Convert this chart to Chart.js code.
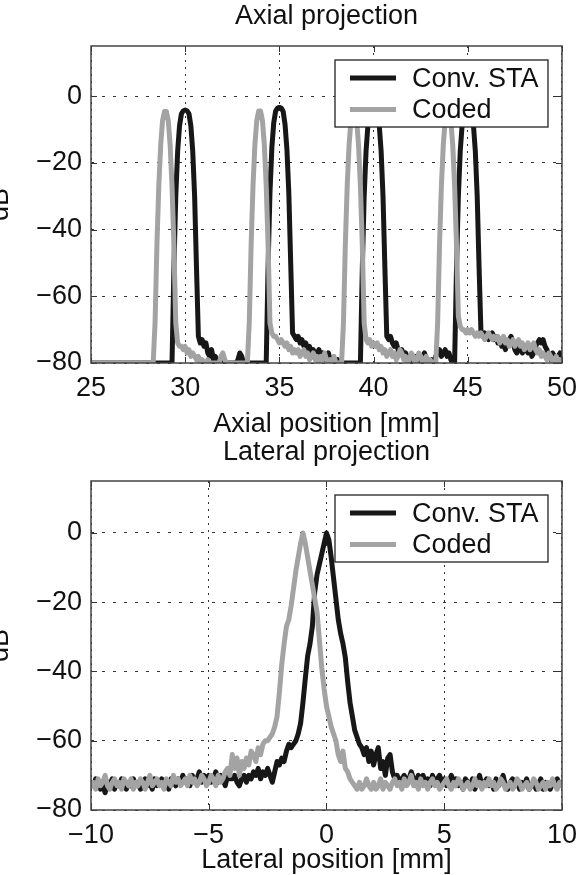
<!DOCTYPE html>
<html><head><meta charset="utf-8">
<script src="https://cdn.jsdelivr.net/npm/chart.js@4.4.0/dist/chart.umd.min.js"></script>
<style>
html,body{margin:0;padding:0;background:#fff;overflow:hidden;width:586px;height:875px;}
canvas{position:absolute;left:0;}
#c1{top:0}
#c2{top:437px}
</style></head><body>
<canvas id="c1" width="586" height="437"></canvas>
<canvas id="c2" width="586" height="438"></canvas>
<script>
const seriesLabels = ['Conv. STA', 'Coded'];
const panelTitles = ['Axial projection', 'Lateral projection'];
const xTitles = ['Axial position [mm]', 'Lateral position [mm]'];
const yTitle = 'dB';
const yTicks = [-80, -60, -40, -20, 0];
const axialXTicks = [25, 30, 35, 40, 45, 50];
const lateralXTicks = [-10, -5, 0, 5, 10];

// axial profile, samples every 0.1 mm from 25 mm
const axialStart = 25, axialStep = 0.1;
const axialConv = [
-80,-80,-80,-80,-80,-80,-80,-80,-80,-80,
-80,-80,-80,-80,-80,-80,-80,-80,-80,-80,
-80,-80,-80,-80,-80,-80,-80,-80,-80,-80,
-80,-80,-80,-80,-80,-80,-80,-80,-80,-80,
-80,-80,-80,-80,-52,-30,-16.5,-8.9,-5.3,-4.4,
-4.2,-4.4,-5.3,-8.9,-16.5,-30,-51.5,-72,-74,-73,
-75,-74,-77,-78,-76,-79,-78,-80,-80,-79,
-80,-80,-80,-80,-80,-80,-80,-80,-79,-77,
-78,-80,-80,-80,-80,-80,-80,-80,-80,-80,
-80,-80,-80,-80,-51,-29,-15.5,-8,-4.5,-3.6,
-3.4,-3.6,-4.6,-8.5,-16,-29,-50,-71,-72,-73,
-72,-74,-73,-75,-74,-76,-75,-77,-76,-78,
-77,-76,-78,-77,-79,-78,-77,-79,-80,-79,
-80,-79,-80,-80,-80,-80,-80,-80,-80,-80,
-80,-80,-80,-80,-52,-30,-16.5,-8.7,-5,-4,
-3.8,-4,-5,-8.7,-16.5,-30,-51.5,-72,-73,-72,
-74,-75,-74,-76,-77,-76,-78,-77,-79,-78,
-80,-79,-78,-80,-79,-80,-78,-77,-79,-80,
-80,-79,-80,-78,-77,-76,-78,-77,-76,-78,
-77,-79,-80,-80,-52,-30,-16.5,-8.7,-5,-4,
-3.8,-4,-5,-8.7,-16.5,-30,-51.5,-71,-72,-71,
-72,-73,-72,-71,-73,-72,-74,-73,-75,-74,
-76,-74,-73,-72,-74,-76,-77,-75,-76,-77,
-75,-76,-77,-76,-78,-77,-75,-74,-73,-74,
-73,-75,-76,-78,-79,-77,-78,-79,-78,-77,
-78];
const axialCoded = [
-80,-80,-80,-80,-80,-80,-80,-80,-80,-80,
-80,-80,-80,-80,-80,-80,-80,-80,-80,-80,
-80,-80,-80,-80,-80,-80,-80,-80,-80,-80,
-80,-80,-80,-80,-68,-44.5,-26.8,-14.6,-7.3,-4.6,
-4.6,-7.3,-14.6,-26.8,-44.5,-68,-74,-75,-75,-76,
-75,-77,-76,-78,-77,-78,-79,-78,-80,-79,
-80,-80,-79,-80,-80,-80,-80,-80,-80,-78,
-77,-79,-80,-80,-80,-80,-80,-80,-80,-80,
-80,-80,-80,-80,-68,-44.5,-26.8,-14.6,-7.3,-4.5,
-4.5,-7.3,-14.6,-26.8,-44.5,-68,-71,-72,-72,-73,
-74,-73,-74,-75,-74,-76,-75,-77,-76,-77,
-76,-78,-77,-76,-78,-77,-79,-78,-77,-79,
-78,-80,-78,-79,-77,-79,-80,-79,-80,-78,
-80,-80,-80,-80,-68,-44.5,-26.8,-14.6,-7.3,-4.6,
-4.6,-7.3,-14.6,-26.8,-44.5,-68,-73,-74,-73,-75,
-74,-75,-74,-76,-75,-77,-76,-78,-77,-76,
-78,-77,-79,-78,-76,-77,-79,-78,-80,-79,
-77,-78,-80,-79,-77,-78,-80,-79,-78,-80,
-79,-80,-80,-80,-68,-44.5,-26.8,-14.6,-7.3,-4.6,
-4.6,-7.3,-14.6,-26.8,-44.5,-66,-69,-70,-70,-71,
-70,-71,-70,-71,-72,-71,-72,-71,-72,-73,
-72,-71,-72,-73,-72,-73,-72,-74,-73,-72,
-74,-73,-75,-74,-73,-75,-74,-73,-75,-74,
-76,-75,-74,-76,-75,-74,-76,-77,-76,-78,
-77,-78,-79,-77,-78,-80,-79,-78,-80,-79,
-80];

// lateral profile, samples every 0.1 mm from -10 mm
const lateralStart = -10, lateralStep = 0.1;
const lateralConv = [
-72,-73,-71,-72,-74,-73,-75,-72,-73,-71,
-74,-72,-73,-71,-72,-74,-72,-73,-71,-73,
-72,-74,-73,-71,-73,-72,-74,-71,-73,-72,
-71,-73,-72,-74,-71,-72,-73,-71,-72,-70,
-72,-71,-73,-70,-72,-71,-69,-72,-70,-71,
-70,-72,-71,-69,-72,-70,-71,-73,-70,-71,
-71,-70,-72,-73,-71,-70,-72,-70,-71,-69,
-70,-68,-71,-69,-70,-68,-70,-72,-69,-66,
-67,-65,-66,-63,-61,-62,-61,-60,-58,-55,
-49,-42,-35.5,-32,-27,-17,-12,-9,-6,-3,
0,-2,-7,-13,-19,-25,-29,-32,-36,-43,
-49,-53,-57,-59,-61,-62,-64,-62,-66,-63,
-67,-64,-62,-68,-66,-70,-65,-64,-69,-71,
-70,-72,-71,-70,-72,-71,-69,-71,-72,-70,
-71,-70,-72,-71,-73,-70,-72,-71,-70,-72,
-71,-73,-72,-70,-72,-71,-73,-72,-74,-71,
-72,-73,-71,-74,-72,-70,-73,-72,-71,-73,
-72,-74,-71,-73,-72,-70,-73,-74,-72,-71,
-73,-72,-74,-72,-73,-71,-74,-73,-72,-74,
-73,-71,-74,-72,-73,-74,-72,-73,-71,-73,
-72];
const lateralCoded = [
-73,-72,-74,-71,-73,-72,-70,-73,-74,-72,
-71,-73,-72,-74,-71,-72,-73,-71,-74,-72,
-73,-71,-72,-74,-72,-70,-73,-72,-71,-73,
-72,-74,-71,-72,-73,-70,-72,-71,-73,-72,
-71,-73,-70,-72,-71,-73,-72,-70,-71,-73,
-72,-70,-71,-73,-70,-72,-71,-69,-68,-70,
-64,-68,-65,-70,-66,-68,-65,-67,-63,-64,
-66,-62,-64,-61,-60,-60,-59,-58,-56,-53,
-46,-38,-32,-27,-25,-21,-16,-11,-7,-3,
0,-3,-7,-11,-15,-19,-23,-31,-39,-45,
-50,-53,-56,-58,-60,-64,-66,-63,-68,-69,
-71,-72,-73,-74,-72,-74,-73,-71,-73,-74,
-72,-74,-73,-71,-74,-72,-73,-74,-72,-71,
-73,-72,-74,-71,-73,-72,-70,-73,-72,-74,
-71,-73,-72,-74,-72,-71,-73,-72,-74,-73,
-72,-71,-73,-74,-72,-73,-71,-72,-74,-73,
-72,-74,-73,-71,-73,-72,-74,-72,-73,-71,
-73,-72,-74,-73,-71,-72,-74,-73,-72,-74,
-73,-71,-72,-74,-73,-72,-74,-73,-71,-72,
-74,-73,-72,-74,-72,-73,-71,-73,-74,-72,
-73];

const FONT = "'Liberation Sans', Arial, Helvetica, sans-serif";
const FS = 27;
const TXT = '#111';
const convColor = '#171717';
const codedColor = '#a3a3a3';

function toPoints(vals, start, step) {
  return vals.map((v, i) => ({ x: +(start + i * step).toFixed(2), y: v }));
}
function fmt(v) { return v < 0 ? '\u2212' + Math.abs(v) : String(v); }

const framePlugin = {
  id: 'frame',
  afterDraw(chart) {
    const { ctx, chartArea: a, scales } = chart;
    ctx.save();
    ctx.strokeStyle = '#333';
    ctx.lineWidth = 1;
    const tl = 6;
    ctx.beginPath();
    scales.x.ticks.forEach(t => {
      const px = Math.round(scales.x.getPixelForValue(t.value)) + 0.5;
      ctx.moveTo(px, a.bottom); ctx.lineTo(px, a.bottom - tl);
      ctx.moveTo(px, a.top); ctx.lineTo(px, a.top + tl);
    });
    scales.y.ticks.forEach(t => {
      const py = Math.round(scales.y.getPixelForValue(t.value)) + 0.5;
      ctx.moveTo(a.left, py); ctx.lineTo(a.left + tl, py);
      ctx.moveTo(a.right, py); ctx.lineTo(a.right - tl, py);
    });
    ctx.stroke();
    ctx.lineWidth = 1.5;
    ctx.strokeStyle = '#444';
    ctx.strokeRect(a.left, a.top, a.right - a.left, a.bottom - a.top);
    // legend box
    const lx = a.left + 244, ly = a.top + 14, lw = a.right - 14 - lx, lh = 67;
    ctx.fillStyle = '#fff';
    ctx.fillRect(lx, ly, lw, lh);
    ctx.lineWidth = 1.3;
    ctx.strokeStyle = '#222';
    ctx.strokeRect(lx, ly, lw, lh);
    chart.data.datasets.forEach((ds, i) => {
      const cy = ly + 18 + i * 31.5;
      ctx.strokeStyle = ds.borderColor;
      ctx.lineWidth = ds.borderWidth;
      ctx.lineCap = 'butt';
      ctx.beginPath(); ctx.moveTo(lx + 15, cy); ctx.lineTo(lx + 61, cy); ctx.stroke();
      ctx.fillStyle = TXT;
      ctx.font = FS + 'px ' + FONT;
      ctx.textBaseline = 'middle';
      ctx.textAlign = 'left';
      ctx.fillText(ds.label, lx + 77, cy + 1.5);
    });
    ctx.restore();
  }
};

// geo: chart-area top/bottom and text centres in canvas coordinates
function makeChart(id, conv, coded, start, step, xMin, xMax, xTicks, title, xTitle, geo) {
  const canvas = document.getElementById(id);
  const H = canvas.height;
  const half = FS * 1.2 / 2;
  const font = { family: FONT, size: FS, weight: 'normal', lineHeight: 1.2 };
  const tTop = geo.titleY - half;
  return new Chart(canvas, {
    type: 'line',
    data: {
      datasets: [
        { label: seriesLabels[0], data: toPoints(conv, start, step), borderColor: convColor, borderWidth: 5,
          pointRadius: 0, tension: 0, order: 1, clip: 0, borderJoinStyle: 'round', borderCapStyle: 'round' },
        { label: seriesLabels[1], data: toPoints(coded, start, step), borderColor: codedColor, borderWidth: 5,
          pointRadius: 0, tension: 0, order: 0, clip: 0, borderJoinStyle: 'round', borderCapStyle: 'round' }
      ]
    },
    options: {
      responsive: false, animation: false, devicePixelRatio: 1,
      layout: { padding: { left: 0, right: 15, top: 0, bottom: 0 } },
      plugins: {
        legend: { display: false },
        tooltip: { enabled: false },
        title: { display: true, text: title, fullSize: false, color: TXT, font: font,
          padding: { top: tTop, bottom: geo.top - 2 * half - tTop } }
      },
      scales: {
        x: {
          type: 'linear', min: xMin, max: xMax,
          afterBuildTicks: s => { s.ticks = xTicks.map(v => ({ value: v })); },
          afterFit: s => { s.height = H - geo.bottom; },
          ticks: { autoSkip: false, maxRotation: 0, minRotation: 0, padding: 9, color: TXT, font: font, callback: fmt },
          grid: { color: '#333', lineWidth: 1, drawTicks: false },
          border: { display: false, dash: [2, 5] },
          title: { display: true, text: xTitle, color: TXT, font: font, padding: { top: 0, bottom: H - half - geo.xTitleY } }
        },
        y: {
          type: 'linear', min: -80, max: 15,
          afterBuildTicks: s => { s.ticks = yTicks.map(v => ({ value: v })); },
          afterFit: s => { s.width = 91; },
          ticks: { padding: 9, color: TXT, font: font, callback: fmt },
          grid: { color: '#333', lineWidth: 1, drawTicks: false },
          border: { display: false, dash: [3, 8] },
          title: { display: true, text: yTitle, color: TXT, font: font, padding: { top: 1 - half, bottom: 0 } }
        }
      }
    },
    plugins: [framePlugin]
  });
}

makeChart('c1', axialConv, axialCoded, axialStart, axialStep, 25, 50, axialXTicks, panelTitles[0], xTitles[0],
  { titleY: 17, top: 46, bottom: 363, xTitleY: 425 });
makeChart('c2', lateralConv, lateralCoded, lateralStart, lateralStep, -10, 10, lateralXTicks, panelTitles[1], xTitles[1],
  { titleY: 16, top: 44, bottom: 373, xTitleY: 424 });
</script>
</body></html>
